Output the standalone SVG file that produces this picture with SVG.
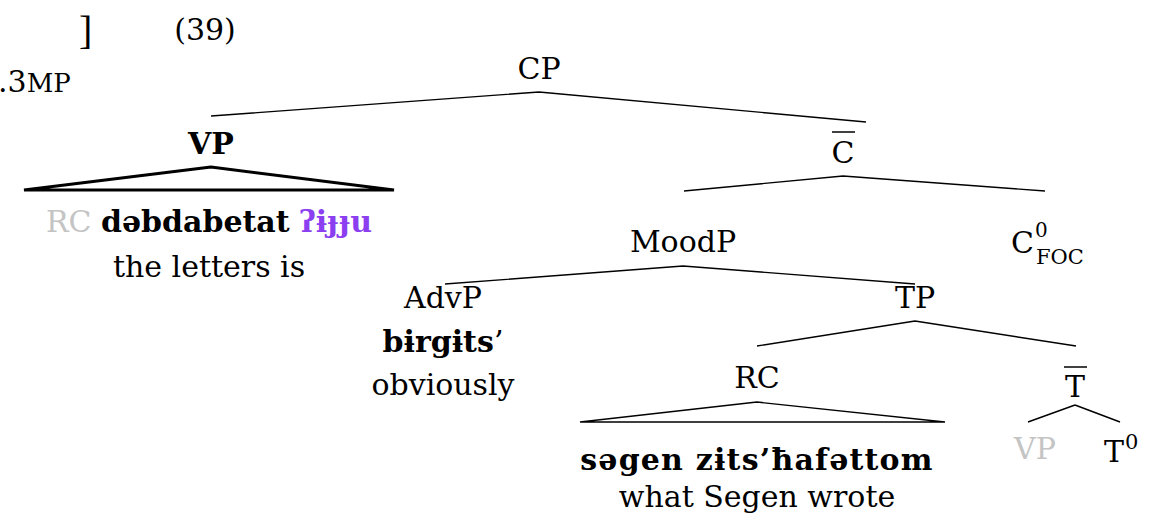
<svg xmlns="http://www.w3.org/2000/svg" width="1175" height="517" viewBox="0 0 1175 517">
<style>
text{font-family:"DejaVu Serif","Liberation Serif",serif;font-size:30px;fill:#000}
.c{text-anchor:middle}
.b{font-weight:bold}
.g{fill:#c4c4c4}
.p{fill:#8b3ff0}
.sup{font-size:21px}
.edge{stroke:#000;stroke-width:1.4;fill:none}
.tri{stroke:#000;fill:none}
</style>
<rect width="1175" height="517" fill="#fff"/>
<g id="header">
<text x="79" y="44" style="font-family:'Liberation Serif',serif;font-size:40px">]</text>
<text x="205" y="40" class="c">(39)</text>
<text x="-2" y="92">.3<tspan font-size="26">MP</tspan></text>
</g>
<g id="connectors">
<path class="edge" d="M539,92 L211,116 M539,92 L866,122"/>
<path class="tri" stroke-width="3" d="M211,167 L24,190 L394,190 Z"/>
<path class="edge" d="M843,176 L684,191 M843,176 L1045,191"/>
<path class="edge" d="M683,266 L445,284 M683,266 L915,284"/>
<path class="edge" d="M915,321 L757,346 M915,321 L1076,346"/>
<path class="tri" stroke-width="1.3" d="M757,402 L580,422 L945,422 Z"/>
<path class="edge" d="M1075,405 L1028,422 M1075,405 L1120,422"/>
</g>
<g id="CP"><text x="539" y="79" class="c">CP</text></g>
<g id="VP"><text x="211" y="154" class="c b">VP</text>
<text x="209" y="232" class="c"><tspan class="g">RC</tspan> <tspan class="b">dəbdabetat</tspan> <tspan class="b p">ʔɨɟɟu</tspan></text>
<text x="209" y="277" class="c">the letters is</text></g>
<g id="Cbar"><text x="843" y="163" class="c">C</text><line x1="832" y1="132" x2="855" y2="132" stroke="#000" stroke-width="1.5"/></g>
<g id="MoodP"><text x="683" y="252" class="c">MoodP</text></g>
<g id="C0"><text x="1011" y="253">C</text><text x="1035" y="237" style="font-size:20px">0</text><text x="1036" y="264" class="sup">FOC</text></g>
<g id="AdvP"><text x="443" y="308" class="c">AdvP</text>
<text x="443" y="352" class="c"><tspan class="b">bɨrgɨts</tspan>’</text>
<text x="443" y="395" class="c">obviously</text></g>
<g id="TP"><text x="915" y="308" class="c">TP</text></g>
<g id="RC"><text x="757" y="388" class="c">RC</text>
<text x="757" y="470" class="c b" letter-spacing="1.2">səgen zɨts’ħafəttom</text>
<text x="757" y="507" class="c">what Segen wrote</text></g>
<g id="Tbar"><text x="1075" y="397" class="c">T</text><line x1="1064" y1="367" x2="1087" y2="367" stroke="#000" stroke-width="1.5"/></g>
<g id="VPgap"><text x="1035" y="459" class="c g">VP</text></g>
<g id="T0"><text x="1104" y="462">T<tspan class="sup" dx="1" dy="-13">0</tspan></text></g>
</svg>
